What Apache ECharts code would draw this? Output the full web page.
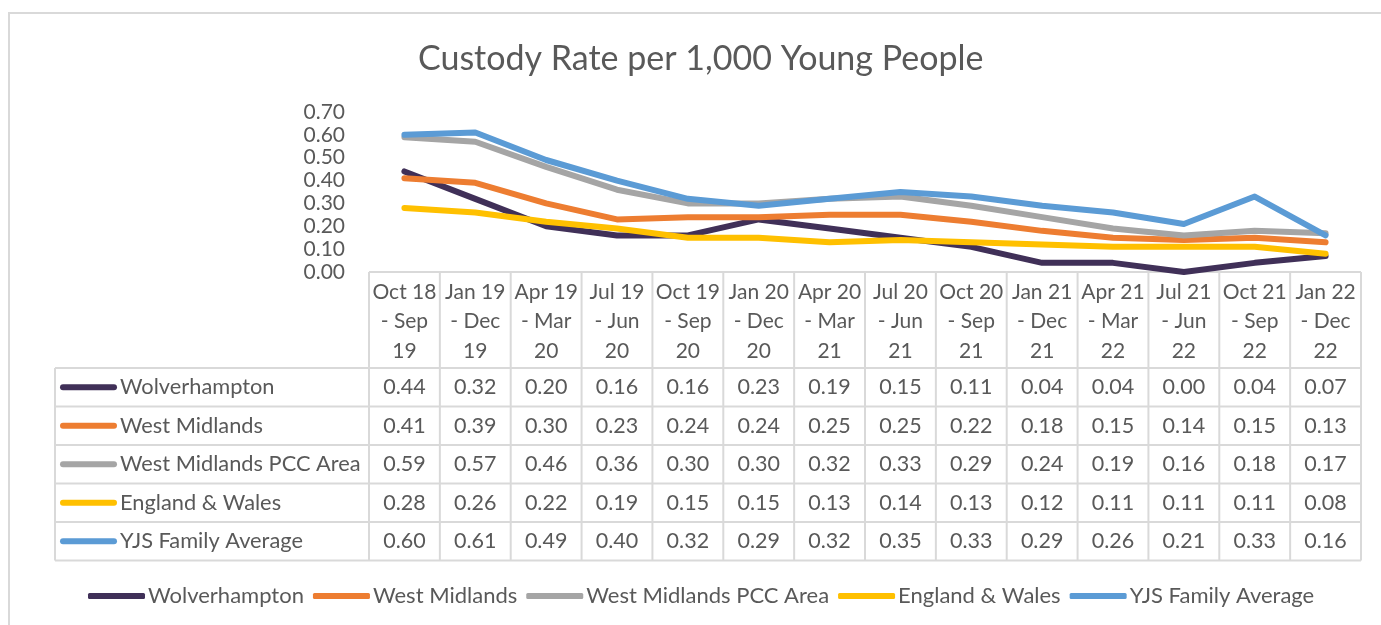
<!DOCTYPE html>
<html><head><meta charset="utf-8">
<script src="https://cdn.jsdelivr.net/npm/echarts@6/dist/echarts.min.js"></script>
<style>html,body{margin:0;padding:0;background:#fff}#c{width:1381px;height:625px}</style>
</head><body><div id="c"></div>
<script>
const categories = ["Oct 18 - Sep 19","Jan 19 - Dec 19","Apr 19 - Mar 20","Jul 19 - Jun 20","Oct 19 - Sep 20","Jan 20 - Dec 20","Apr 20 - Mar 21","Jul 20 - Jun 21","Oct 20 - Sep 21","Jan 21 - Dec 21","Apr 21 - Mar 22","Jul 21 - Jun 22","Oct 21 - Sep 22","Jan 22 - Dec 22"];
const seriesNames = ["Wolverhampton","West Midlands","West Midlands PCC Area","England & Wales","YJS Family Average"];
const wolverhampton = [0.44,0.32,0.20,0.16,0.16,0.23,0.19,0.15,0.11,0.04,0.04,0.00,0.04,0.07];
const westMidlands = [0.41,0.39,0.30,0.23,0.24,0.24,0.25,0.25,0.22,0.18,0.15,0.14,0.15,0.13];
const westMidlandsPCC = [0.59,0.57,0.46,0.36,0.30,0.30,0.32,0.33,0.29,0.24,0.19,0.16,0.18,0.17];
const englandWales = [0.28,0.26,0.22,0.19,0.15,0.15,0.13,0.14,0.13,0.12,0.11,0.11,0.11,0.08];
const yjsFamily = [0.60,0.61,0.49,0.40,0.32,0.29,0.32,0.35,0.33,0.29,0.26,0.21,0.33,0.16];
const yTicks = [0,0.1,0.2,0.3,0.4,0.5,0.6,0.7];
const colors = ["#403058","#ED7D31","#A5A5A5","#FFC000","#5B9BD5"];

const allData = [wolverhampton, westMidlands, westMidlandsPCC, englandWales, yjsFamily];
const FONT = "Lato, 'Open Sans', sans-serif";
const TXT = "#595959";
const GRIDC = "#D9D9D9";

const chart = echarts.init(document.getElementById('c'));
const option = {
  animation: false,
  backgroundColor: '#fff',
  textStyle: {fontFamily: FONT},
  title: {
    text: 'Custody Rate per 1,000 Young People',
    left: 413, top: 37,
    textStyle: {fontFamily: FONT, fontWeight: 'normal', fontSize: 34, color: TXT}
  },
  grid: {left: 369, right: 20, top: 112, bottom: 353},
  xAxis: {
    type: 'category', data: categories, boundaryGap: true,
    axisLine: {show: false}, axisTick: {show: false},
    axisLabel: {
      interval: 0, margin: 5, color: TXT, fontSize: 21, fontFamily: FONT, lineHeight: 29.5,
      formatter: v => { const p = v.split(' - '); const q = p[1].split(' '); return p[0] + '\n- ' + q[0] + '\n' + q[1]; }
    }
  },
  yAxis: {
    type: 'value', min: 0, max: 0.7, interval: 0.1,
    splitLine: {show: false}, axisLine: {show: false}, axisTick: {show: false},
    axisLabel: {margin: 24, color: TXT, fontSize: 21, fontFamily: FONT, formatter: v => v.toFixed(2)}
  },
  legend: {
    bottom: 13, left: 83, itemGap: 9, itemWidth: 57, itemHeight: 6,
    icon: 'roundRect',
    textStyle: {color: TXT, fontSize: 22, fontFamily: FONT, padding: [0,0,0,-2]},
    data: seriesNames
  },
  series: seriesNames.map((n, i) => ({
    name: n, type: 'line', data: allData[i], symbol: 'none', smooth: false,
    itemStyle: {color: colors[i]},
    lineStyle: {width: 6, color: colors[i], cap: 'round', join: 'round'}
  }))
};
chart.setOption(option);

// Data table built from the axis scale
const c0 = chart.convertToPixel({xAxisIndex: 0}, 0);
const c1 = chart.convertToPixel({xAxisIndex: 0}, 1);
const bw = c1 - c0;
const yBase = chart.convertToPixel({yAxisIndex: 0}, 0);
const n = categories.length;
const xStart = c0 - bw / 2;
const xEnd = xStart + bw * n;
const headerH = 96;
const rowH = 38.5;
const firstColLeft = 55;
const headerBottom = yBase + headerH;
const tableBottom = headerBottom + rowH * seriesNames.length;
const g = [];
const line = (x1, y1, x2, y2) => g.push({type: 'line', shape: {x1, y1, x2, y2}, style: {stroke: GRIDC, lineWidth: 2}, silent: true});
// outer chart border
g.push({type: 'rect', shape: {x: 9, y: 13, width: 1400, height: 700}, style: {fill: null, stroke: GRIDC, lineWidth: 2}, silent: true, z: -1});
line(xStart, yBase, xEnd, yBase);
for (let i = 0; i <= n; i++) line(xStart + bw * i, yBase, xStart + bw * i, tableBottom);
line(firstColLeft, headerBottom, firstColLeft, tableBottom);
for (let r = 0; r <= seriesNames.length; r++) line(firstColLeft, headerBottom + rowH * r, xEnd, headerBottom + rowH * r);
seriesNames.forEach((name, r) => {
  const cy = headerBottom + rowH * r + rowH / 2;
  g.push({type: 'line', shape: {x1: 63, y1: cy, x2: 114, y2: cy}, style: {stroke: colors[r], lineWidth: 6, lineCap: 'round'}, silent: true});
  g.push({type: 'text', x: 120, y: cy, style: {text: name, fill: TXT, font: '21.8px ' + FONT, textAlign: 'left', textVerticalAlign: 'middle'}, silent: true});
  allData[r].forEach((v, i) => {
    g.push({type: 'text', x: chart.convertToPixel({xAxisIndex: 0}, i), y: cy, style: {text: v.toFixed(2), fill: TXT, font: '21.5px ' + FONT, textAlign: 'center', textVerticalAlign: 'middle'}, silent: true});
  });
});
chart.setOption({graphic: {elements: g}});
</script></body></html>
